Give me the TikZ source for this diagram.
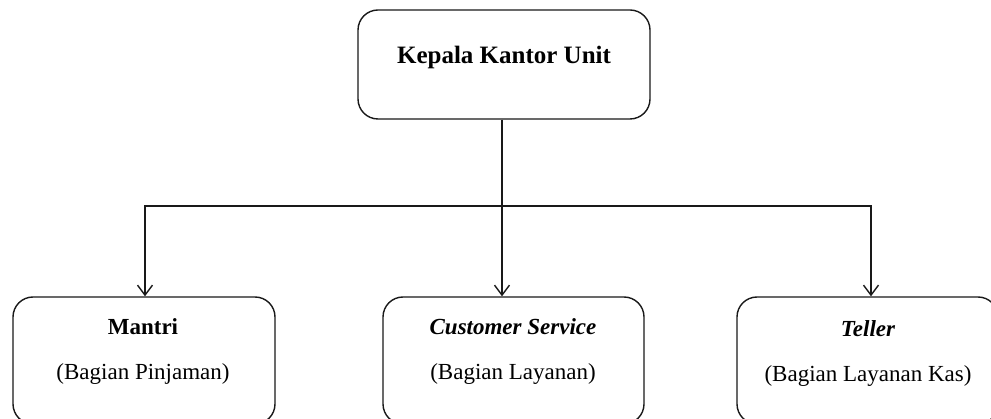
\documentclass[tikz,border=0pt]{standalone}
\usepackage{fontspec}
\setmainfont{Liberation Serif}
\usetikzlibrary{arrows.meta}
\begin{document}
\begin{tikzpicture}[x=1pt,y=-1pt,
  box/.style={draw=black!90, line width=1.4pt, rounded corners=20pt, inner sep=0pt},
  titletext/.style={font=\fontsize{25}{30}\selectfont\bfseries, inner sep=0pt},
  headtext/.style={font=\fontsize{23}{28}\selectfont\bfseries, inner sep=0pt},
  subtext/.style={font=\fontsize{23}{28}\selectfont, inner sep=0pt},
  conn/.style={draw=black!90, line width=1.4pt},
  arr/.style={conn, -{Straight Barb[length=10pt, width=15pt, line width=1.4pt]}}]
\useasboundingbox (0,0) rectangle (991,419);
\fill[white] (0,0) rectangle (991,419);
% boxes
\node[box, minimum width=292pt, minimum height=109pt] (top) at (504,64.5) {};
\node[box, minimum width=262pt, minimum height=127pt] (mantri) at (144,360.5) {};
\node[box, minimum width=261pt, minimum height=127pt] (cs) at (513.5,360.5) {};
\node[box, minimum width=261pt, minimum height=127pt] (teller) at (867.5,360.5) {};
% texts
\node[titletext] (ttop) at (504,57) {Kepala Kantor Unit};
\node[headtext] (tm1) at (143,327) {Mantri};
\node[subtext] (tm2) at (143,374) {(Bagian Pinjaman)};
\node[headtext, font=\fontsize{23}{28}\selectfont\bfseries\itshape] (tc1) at (513,327) {Customer Service};
\node[subtext] (tc2) at (513,374) {(Bagian Layanan)};
\node[headtext, font=\fontsize{23}{28}\selectfont\bfseries\itshape] (tt1) at (868,329) {Teller};
\node[subtext] (tt2) at (868,376) {(Bagian Layanan Kas)};
% connectors
\coordinate (j) at (502,206);
\draw[conn] (top.south -| j) -- (j);
\draw[arr] (j) -| ([xshift=1pt]mantri.north);
\draw[arr] (j) -- ([xshift=-11.5pt]cs.north);
\draw[arr] (j) -| ([xshift=3.5pt]teller.north);
\end{tikzpicture}
\end{document}
